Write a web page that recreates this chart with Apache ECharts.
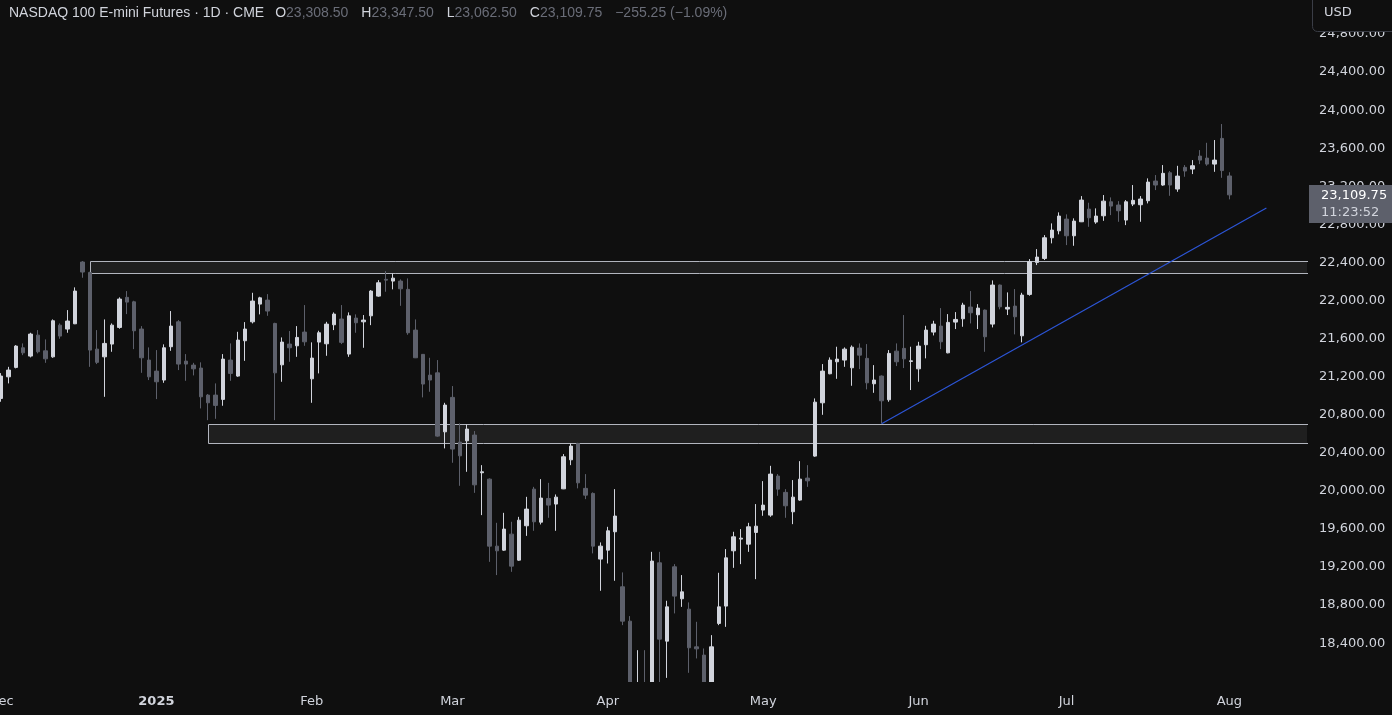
<!DOCTYPE html>
<html><head><meta charset="utf-8">
<script src="https://cdn.jsdelivr.net/npm/echarts/dist/echarts.min.js"></script>
<style>html,body{margin:0;padding:0;background:#0f0f0f;}#c{width:1392px;height:715px;}</style>
</head><body><div id="c"></div>
<script>
// ---- categories: trading days (with trailing empty days) ----
const monthKeys = ['2024-12','2025-01','2025-02','2025-03','2025-04','2025-05','2025-06','2025-07','2025-08'];
const monthLabels = ['Dec','2025','Feb','Mar','Apr','May','Jun','Jul','Aug'];
const monthDays = [
  [2,3,4,5,6,9,10,11,12,13,16,17,18,19,20,23,24,26,27,30,31],
  [2,3,6,7,8,9,10,13,14,15,16,17,21,22,23,24,27,28,29,30,31],
  [3,4,5,6,7,10,11,12,13,14,18,19,20,21,24,25,26,27,28],
  [3,4,5,6,7,10,11,12,13,14,17,18,19,20,21,24,25,26,27,28,31],
  [1,2,3,4,7,8,9,10,11,14,15,16,17,21,22,23,24,25,28,29,30],
  [1,2,5,6,7,8,9,12,13,14,15,16,19,20,21,22,23,27,28,29,30],
  [2,3,4,5,6,9,10,11,12,13,16,17,18,20,23,24,25,26,27,30],
  [1,2,3,7,8,9,10,11,14,15,16,17,18,21,22,23,24,25,28,29,30,31],
  [1,4,5,6,7,8,11,12,13,14,15]
];
// ---- OHLC values ----
const opens = [20971,21198,21297,21503,21416,21636,21471,21408,21741,21700,21755,22404,22295,21489,21408,21542,21717,22033,21986,21700,21374,
21258,21164,21514,21776,21363,21321,21290,21006,21006,20961,21374,21206,21577,21776,21962,22004,21759,21324,21542,21524,21668,
21177,21563,21545,21745,21805,21437,21815,21776,21839,22046,22222,22204,22204,22117,21689,21434,21216,21240,20620,
20982,20512,20526,20586,20190,20123,19419,19377,19545,19272,19633,20018,19671,19920,19861,20021,20326,20498,20026,19973,19283,
19377,19570,18992,18631,17100,17900,17100,19244,18421,19202,18866,18757,18361,18274,17880,18607,18789,19370,19493,19440,19563,
19798,19745,20155,19984,19780,19903,20134,20365,20925,21230,21356,21374,21293,21500,21392,21125,21206,20957,21468,21497,21360,
21282,21535,21668,21731,21450,21773,21808,21931,21850,21899,21752,22162,21910,21941,21629,22064,22400,22442,22659,22732,
22855,22680,22827,22960,22824,22890,23037,23003,22845,23013,23006,23048,23255,23213,23342,23171,23399,23381,23517,23496,23433,23703,
23308.5];
const highs = [21237,21303,21531,21549,21661,21689,21591,21801,21759,21899,22138,22414,22302,21689,21801,21759,22033,22099,21997,21731,21507,
21479,21539,21889,21794,21437,21345,21350,21017,21129,21437,21549,21671,21773,22081,22039,22067,21766,21612,21679,21731,21952,
21560,21682,21776,21875,21952,21875,21854,21847,22109,22214,22309,22285,22222,22232,21801,21437,21398,21374,20925,
21101,20709,20698,20628,20270,20131,19664,19769,19675,19727,19937,20042,20123,20084,19962,20386,20498,20505,20176,19984,19458,
19622,20018,19143,18684,18326,18326,19359,19359,18845,19230,19115,18828,18624,18344,18484,19139,19388,19570,19598,19664,19861,
20102,20263,20176,20018,20113,20312,20270,20971,21332,21402,21514,21507,21528,21549,21542,21321,21213,21479,21549,21847,21514,
21566,21734,21787,21920,21857,21878,21976,22099,21962,21905,22211,22168,22085,22120,22081,22435,22540,22687,22810,22926,
22905,22863,23097,23027,22968,23108,23083,23044,23055,23213,23097,23283,23318,23423,23360,23415,23423,23475,23580,23657,23686,23854,
23347.5];
const lows = [20936,21129,21287,21426,21402,21444,21345,21398,21598,21661,21752,22239,21303,21332,20988,21461,21703,21857,21489,21240,21164,
20964,21135,21471,21269,21156,21213,20866,20743,20757,20894,21156,21198,21366,21759,21854,21839,20743,21146,21356,21408,21524,
20925,21234,21419,21689,21542,21408,21661,21503,21741,22039,22092,22117,21944,21640,21395,20982,21041,20568,20446,
20295,20053,20200,19979,19745,19254,19115,19370,19149,19265,19527,19580,19647,19717,19580,20018,20270,20026,19913,19343,18950,
19237,19055,18589,17380,16460,17050,16900,17850,18035,18712,18781,18088,18239,17760,17800,18589,18571,19191,19230,19359,19072,
19738,19727,19948,19717,19650,19895,20042,20358,20799,21225,21177,21303,21104,21279,21066,21030,20709,20936,21311,21290,21059,
21146,21392,21633,21489,21445,21700,21724,21759,21700,21461,21717,21907,21847,21644,21560,22050,22372,22425,22600,22695,
22582,22575,22824,22774,22806,22837,22897,22827,22792,22992,22827,23020,23160,23205,23100,23142,23300,23328,23433,23416,23352,23289,
23062.5];
const closes = [21206,21269,21521,21450,21647,21461,21387,21787,21626,21784,22099,22299,21479,21350,21549,21741,22015,21983,21682,21398,21198,
21146,21503,21731,21332,21332,21282,20988,20925,20898,21384,21234,21584,21700,21994,22028,21889,21240,21563,21503,21612,21566,
21395,21661,21752,21857,21560,21839,21766,21794,22099,22186,22214,22235,22123,21661,21398,21122,21164,20575,20901,
20439,20368,20649,20063,20200,19419,19370,19598,19209,19692,19808,19675,19924,19850,19934,20358,20470,20084,19955,19419,19419,
19580,19735,18631,17450,17480,17150,19262,18442,18781,18894,18939,18351,18340,17850,18361,18781,19296,19517,19503,19622,19629,
19850,20176,20018,19843,19934,20123,20105,20932,21258,21374,21384,21489,21510,21426,21135,21164,20946,21444,21356,21387,21366,
21521,21689,21752,21566,21770,21801,21952,21871,21920,21619,22162,21934,21928,21829,22057,22407,22456,22659,22740,22887,
22680,22834,23055,22869,22887,23044,22992,22943,23037,23052,23066,23244,23213,23336,23213,23307,23360,23416,23475,23433,23475,23365,
23109.75];
// ---- drawings ----
const zones = [[12, 22414, 22288], [28, 20698, 20498]];   // [start bar, top, bottom]
const trendIdx = [119, 171];
const trendVal = [20705, 22971];
const yTicks = {min: 18000, max: 24800, step: 400};
const instrument = 'NASDAQ 100 E-mini Futures · 1D · CME';
const countdown = '11:23:52';

const cats = [];
monthDays.forEach((ds, m) => ds.forEach(d => cats.push(monthKeys[m] + '-' + String(d).padStart(2, '0'))));
const monthStart = {};
monthKeys.forEach((k, m) => { monthStart[k + '-' + String(monthDays[m][0]).padStart(2, '0')] = monthLabels[m]; });

const candles = opens.map((o, i) => [o, closes[i], lows[i], highs[i]]);
const fmt = v => v.toLocaleString('en-US', {minimumFractionDigits: 2, maximumFractionDigits: 2});
const n = opens.length - 1;
const chg = closes[n] - closes[n - 1];
const pct = chg / closes[n - 1] * 100;
const minus = v => (v < 0 ? '\u2212' : '+') + fmt(Math.abs(v));
const UP = '#d1d4dc', DOWN = '#5d606b', BG = '#0f0f0f';

const chart = echarts.init(document.getElementById('c'), null, {renderer: 'canvas'});
const txt = (c) => ({color: c, fontSize: 14, fontFamily: 'Liberation Sans', fontWeight: 'normal'});
const header = '{n|' + instrument + '}{s0|}{l|O}{v|' + fmt(opens[n]) + '}{s|}{l|H}{v|' + fmt(highs[n]) + '}{s|}{l|L}{v|' + fmt(lows[n]) +
  '}{s|}{l|C}{v|' + fmt(closes[n]) + '}{s|}{v|' + minus(chg) + ' (' + minus(pct) + '%)}';
const option = {
  backgroundColor: BG,
  animation: false,
  title: {
    left: 4, top: 1,
    text: header,
    textStyle: {fontWeight: 'normal', fontSize: 14, fontFamily: 'Liberation Sans',
      rich: {n: txt('#d1d4dc'), l: txt('#d1d4dc'), v: Object.assign(txt('#6a6d78'), {padding: [0, 1, 0, 0]}), s: {width: 12}, s0: {width: 11}}}
  },
  grid: {left: -2.7, right: 84.9, top: 34, bottom: 33.8, containLabel: false, outerBoundsMode: 'none'},
  xAxis: {
    type: 'category', data: cats, boundaryGap: true, z: 20,
    axisLine: {show: false}, axisTick: {show: false}, splitLine: {show: false},
    axisLabel: {
      margin: 14, color: '#d1d4dc', fontSize: 13, fontFamily: 'DejaVu Sans',
      interval: (i, v) => monthStart[v] !== undefined,
      formatter: v => monthStart[v] === '2025' ? '{b|2025}' : (monthStart[v] || ''),
      rich: {b: {fontWeight: 'bold', color: '#d1d4dc', fontSize: 13, fontFamily: 'DejaVu Sans'}}
    }
  },
  yAxis: {
    type: 'value', position: 'right', min: yTicks.min, max: yTicks.max, interval: yTicks.step, z: 20,
    axisLine: {show: false}, axisTick: {show: false}, splitLine: {show: false},
    axisLabel: {
      margin: 12, color: '#d1d4dc', fontSize: 13, fontFamily: 'DejaVu Sans', align: 'left',
      showMinLabel: false,
      formatter: v => v === yTicks.min ? '' : fmt(v)
    }
  },
  series: [
    {
      type: 'custom', name: 'zones', data: zones, z: 1, clip: true,
      encode: {x: 0, y: [1, 2]},
      renderItem: (params, api) => {
        const p1 = api.coord([api.value(0), api.value(1)]);
        const p2 = api.coord([api.value(0), api.value(2)]);
        const right = params.coordSys.x + params.coordSys.width;
        const l = Math.round(p1[0]) + 0.5, t = Math.round(p1[1]) + 0.5, b = Math.round(p2[1]) + 0.5;
        return {type: 'group', children: [
          {type: 'rect', shape: {x: l, y: t, width: right - l, height: b - t}, style: {fill: 'rgba(255,255,255,0.065)'}},
          {type: 'polyline', shape: {points: [[right + 5, t], [l, t], [l, b], [right + 5, b]]}, style: {stroke: '#b2b5be', lineWidth: 1, fill: null}}
        ]};
      }
    },
    {
      type: 'candlestick', name: 'NQ', data: candles, z: 3, clip: true,
      barWidth: 4,
      itemStyle: {color: UP, color0: DOWN, borderColor: UP, borderColor0: DOWN, borderWidth: 1}
    },
    {
      type: 'line', name: 'trend', z: 4, symbol: 'none', clip: true,
      data: trendIdx.map((k, i) => [cats[k], trendVal[i]]),
      lineStyle: {color: '#2c55d6', width: 1.2}
    }
  ]
};
chart.setOption(option);

const yc = chart.convertToPixel({yAxisIndex: 0}, closes[n]);
const yBottom = chart.convertToPixel({yAxisIndex: 0}, yTicks.min);
chart.setOption({
  graphic: [
    // mask: candles below the visible price range are cut at the pane's bottom edge
    {type: 'rect', z: 10, silent: true, shape: {x: 0, y: Math.round(yBottom) + 1, width: 1392, height: 80}, style: {fill: BG}},
    {type: 'rect', z: 100, shape: {x: 1312.5, y: -6.5, width: 90, height: 38, r: 5}, style: {fill: BG, stroke: '#3a3d46', lineWidth: 1}},
    {type: 'text', z: 101, x: 1324, y: 13, style: {text: 'USD', fill: '#d1d4dc', font: '13px "DejaVu Sans"', textVerticalAlign: 'middle'}},
    {type: 'rect', z: 100, shape: {x: 1309, y: Math.round(yc) - 10, width: 83, height: 38}, style: {fill: DOWN}},
    {type: 'text', z: 101, x: 1321, y: Math.round(yc) + 1, style: {text: fmt(closes[n]), fill: '#ffffff', font: '13px "DejaVu Sans"', textVerticalAlign: 'middle'}},
    {type: 'text', z: 101, x: 1321, y: Math.round(yc) + 18, style: {text: countdown, fill: '#d1d4dc', font: '13px "DejaVu Sans"', textVerticalAlign: 'middle'}}
  ]
});
</script></body></html>
